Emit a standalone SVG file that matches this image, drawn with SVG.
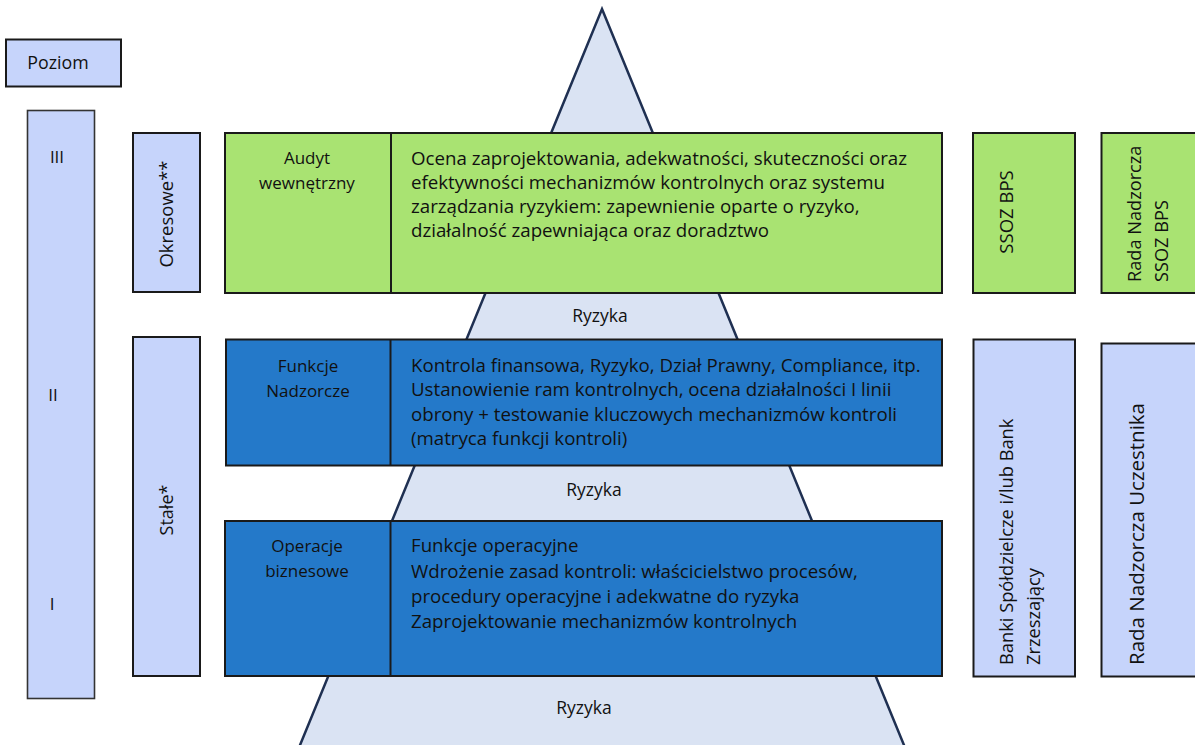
<svg xmlns="http://www.w3.org/2000/svg" width="1195" height="745" viewBox="0 0 1195 745">
<style>
  .box { stroke: #1a1a1a; stroke-width: 2; }
  .lav { fill: #C6D4FB; }
  .green { fill: #A9E372; }
  .blue { fill: #2479C9; }
  .tri { fill: #DAE3F3; stroke: #1F3052; stroke-width: 2.5; }
  .div { stroke: #1a1a1a; stroke-width: 2; }
  text { font-family: "Open Sans", "Liberation Sans", sans-serif; fill: #111; }
  .t { font-size: 17px; }
  .m { font-size: 18.7px; }
  .r { font-size: 17.5px; }
  .c { text-anchor: middle; }
</style>
<rect width="1195" height="745" fill="#ffffff"/>

<g id="pyramid">
  <polygon class="tri" points="602,9 906,750 298,750"/>
</g>

<g id="poziom">
  <rect class="box lav" x="6" y="39.5" width="115" height="47"/>
  <text class="c" style="font-size:17.8px" x="58" y="69">Poziom</text>
</g>

<g id="levels">
  <rect class="box lav" x="27.5" y="110.5" width="67" height="588" style="stroke:#333;stroke-width:1.6"/>
  <text class="t c" x="57" y="163">III</text>
  <text class="t c" x="53" y="401">II</text>
  <text class="t c" x="52" y="610">I</text>
</g>

<g id="okresowe">
  <rect class="box lav" x="133" y="133" width="67" height="159"/>
  <text class="c" style="font-size:18.5px" transform="translate(173,214) rotate(-90)">Okresowe**</text>
</g>

<g id="stale">
  <rect class="box lav" x="133" y="337" width="67" height="339"/>
  <text class="c" style="font-size:18px" transform="translate(173,510) rotate(-90)">Stałe*</text>
</g>

<g id="audyt">
  <rect class="box green" x="225" y="133" width="717" height="160"/>
  <line class="div" x1="391" y1="133" x2="391" y2="293"/>
  <text class="t c" x="307" y="164">Audyt</text>
  <text class="t c" x="307" y="189">wewnętrzny</text>
  <text class="m" x="411" y="165">Ocena zaprojektowania, adekwatności, skuteczności oraz</text>
  <text class="m" x="411" y="189">efektywności mechanizmów kontrolnych oraz systemu</text>
  <text class="m" x="411" y="213">zarządzania ryzykiem: zapewnienie oparte o ryzyko,</text>
  <text class="m" x="411" y="237">działalność zapewniająca oraz doradztwo</text>
</g>

<g id="ryzyka3">
  <text class="r c" x="600" y="322">Ryzyka</text>
</g>

<g id="funkcje">
  <rect class="box blue" x="226" y="339.5" width="716" height="126"/>
  <line class="div" x1="390.5" y1="339.5" x2="390.5" y2="465.5"/>
  <text class="t c" x="308" y="372">Funkcje</text>
  <text class="t c" x="308" y="397">Nadzorcze</text>
  <text class="m" x="411" y="372">Kontrola finansowa, Ryzyko, Dział Prawny, Compliance, itp.</text>
  <text class="m" x="411" y="396">Ustanowienie ram kontrolnych, ocena działalności I linii</text>
  <text class="m" x="411" y="421">obrony + testowanie kluczowych mechanizmów kontroli</text>
  <text class="m" x="411" y="445">(matryca funkcji kontroli)</text>
</g>

<g id="ryzyka2">
  <text class="r c" x="594" y="496">Ryzyka</text>
</g>

<g id="operacje">
  <rect class="box blue" x="225" y="521" width="717" height="155"/>
  <line class="div" x1="390.5" y1="521" x2="390.5" y2="676"/>
  <text class="t c" x="307" y="552">Operacje</text>
  <text class="t c" x="307" y="577">biznesowe</text>
  <text class="m" x="411" y="552">Funkcje operacyjne</text>
  <text class="m" x="411" y="578">Wdrożenie zasad kontroli: właścicielstwo procesów,</text>
  <text class="m" x="411" y="603">procedury operacyjne i adekwatne do ryzyka</text>
  <text class="m" x="411" y="628">Zaprojektowanie mechanizmów kontrolnych</text>
</g>

<g id="ryzyka1">
  <text class="r c" x="584" y="714">Ryzyka</text>
</g>

<g id="ssoz">
  <rect class="box green" x="973" y="133" width="102" height="160"/>
  <text class="c" style="font-size:18.5px" transform="translate(1013,212) rotate(-90)">SSOZ BPS</text>
</g>

<g id="rada-ssoz">
  <rect class="box green" x="1101.5" y="133" width="100" height="160"/>
  <text style="font-size:18.2px" transform="translate(1141,282) rotate(-90)">Rada Nadzorcza</text>
  <text style="font-size:18.2px" transform="translate(1168,282) rotate(-90)">SSOZ BPS</text>
</g>

<g id="banki">
  <rect class="box lav" x="973.5" y="339.5" width="101.5" height="337"/>
  <text style="font-size:18.3px" transform="translate(1013,665) rotate(-90)">Banki Spółdzielcze i/lub Bank</text>
  <text style="font-size:18.3px" transform="translate(1040,665) rotate(-90)">Zrzeszający</text>
</g>

<g id="rada-uczestnika">
  <rect class="box lav" x="1101.5" y="343.5" width="100" height="333"/>
  <text style="font-size:20.5px" transform="translate(1144,665) rotate(-90)">Rada Nadzorcza Uczestnika</text>
</g>

<g id="connectors"></g>
</svg>
